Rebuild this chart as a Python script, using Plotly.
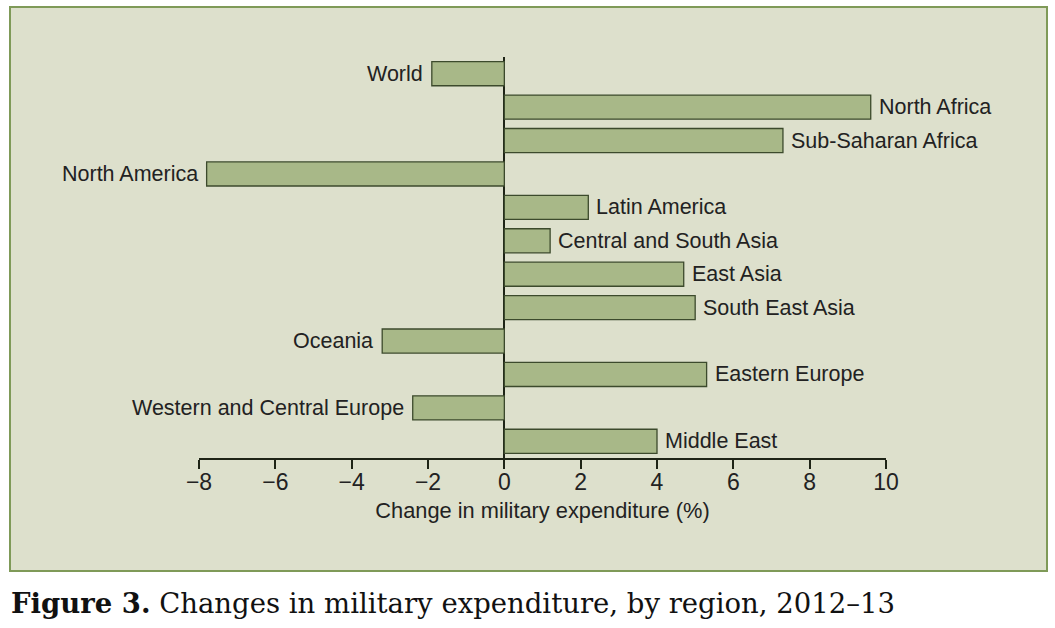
import plotly.graph_objects as go

regions = ["World", "North Africa", "Sub-Saharan Africa", "North America", "Latin America",
           "Central and South Asia", "East Asia", "South East Asia", "Oceania",
           "Eastern Europe", "Western and Central Europe", "Middle East"]
changes = [-1.9, 9.6, 7.3, -7.8, 2.2, 1.2, 4.7, 5.0, -3.2, 5.3, -2.4, 4.0]
x_ticks = [-8, -6, -4, -2, 0, 2, 4, 6, 8, 10]
x_tick_labels = ["−8", "−6", "−4", "−2", "0", "2", "4", "6", "8", "10"]

W, H = 1055, 628
L, R, T, B = 199, 886, 57, 458
pw, ph = R - L, B - T

def px(xp):
    return (xp - L) / pw

def py(yp):
    return (B - yp) / ph

font_main = "Liberation Sans, Arial, sans-serif"
text_col = "#222222"

fig = go.Figure()
fig.add_trace(go.Bar(
    x=changes, y=regions, orientation="h",
    marker=dict(color="#a8b888", line=dict(color="#3c4a2c", width=1.3)),
    cliponaxis=False, hoverinfo="x+y",
))

for name, val in zip(regions, changes):
    fig.add_annotation(x=val, y=name, text=name, showarrow=False,
                       xanchor="left" if val >= 0 else "right", yanchor="middle",
                       xshift=6 if val >= 0 else -7,
                       font=dict(family=font_main, size=21.5, color=text_col))

fig.add_shape(type="rect", xref="paper", yref="paper",
              x0=px(10), x1=px(1047), y0=py(571), y1=py(7),
              fillcolor="#dde0cc", line=dict(color="#7f9a58", width=2), layer="below")

fig.add_annotation(xref="paper", yref="paper", x=px(9), y=py(603),
                   xanchor="left", yanchor="middle", showarrow=False,
                   text="<b>Figure 3.</b> Changes in military expenditure, by region, 2012–13",
                   font=dict(family="DejaVu Serif, serif", size=27.5, color="#111111"))

fig.update_layout(
    width=W, height=H,
    margin=dict(l=L, r=W - R, t=T, b=H - B, pad=0),
    paper_bgcolor="white", plot_bgcolor="rgba(0,0,0,0)",
    bargap=0.28, showlegend=False,
    xaxis=dict(range=[-8, 10], tickvals=x_ticks, ticktext=x_tick_labels,
               showgrid=False, zeroline=True, zerolinecolor="#1e2416", zerolinewidth=2,
               showline=True, linecolor="#1e2416", linewidth=1.5,
               ticks="outside", ticklen=9, tickwidth=1.5, tickcolor="#1e2416",
               ticklabelstandoff=-6,
               tickfont=dict(family=font_main, size=23, color=text_col),
               title=dict(text="Change in military expenditure (%)", standoff=8,
                          font=dict(family=font_main, size=21.8, color=text_col))),
    yaxis=dict(autorange="reversed", showticklabels=False, showgrid=False,
               zeroline=False, showline=False, ticks=""),
)

fig.write_html("out.html", config={"displayModeBar": False},
               post_script="document.body.style.margin='0';document.body.style.overflow='hidden';")
